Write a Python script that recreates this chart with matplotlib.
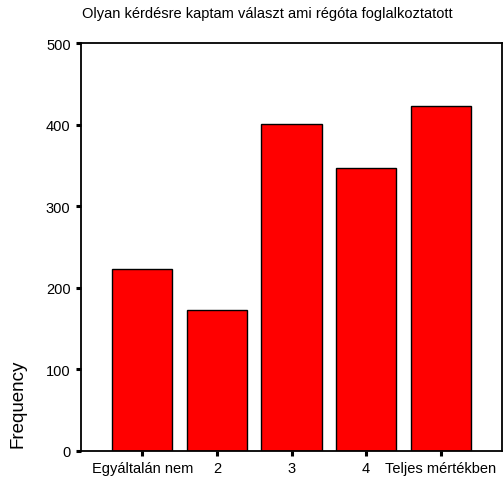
import matplotlib.pyplot as plt
import numpy as np

plt.rcParams["font.family"] = ["Liberation Sans", "DejaVu Sans"]

# Frequency of answers per category
categories = ["Egyáltalán nem", "2", "3", "4", "Teljes mértékben"]
counts = [223, 173, 401, 347, 423]
y_ticks = [0, 100, 200, 300, 400, 500]
title = "Olyan kérdésre kaptam választ ami régóta foglalkoztatott"

fig = plt.figure(figsize=(5.03, 4.85), dpi=100)
ax = fig.add_axes([81 / 503, 1 - 452 / 485, 421 / 503, (452 - 44.3) / 485])

x = np.arange(len(categories))
ax.bar(x, counts, width=0.805, color="#ff0000", edgecolor="black",
       linewidth=1.0)

ax.set_xlim(-0.82, len(categories) - 1 + 0.82)
ax.set_ylim(0, 500)
ax.set_xticks(x)
ax.set_xticklabels(categories, fontsize=10.5)
ax.set_yticks(y_ticks)
ax.set_yticklabels([str(t) for t in y_ticks], fontsize=10.5)
ax.tick_params(direction="out", length=3.5, width=2.2, pad=4)

for spine in ax.spines.values():
    spine.set_linewidth(1.3)

fig.text(18 / 503, 1 - 448 / 485, "Frequency", rotation=90,
         ha="center", va="bottom", fontsize=13.5)
fig.text(267 / 503, 1 - 14 / 485, title, ha="center", va="center",
         fontsize=10.5)

fig.savefig("out.png", dpi=100)
